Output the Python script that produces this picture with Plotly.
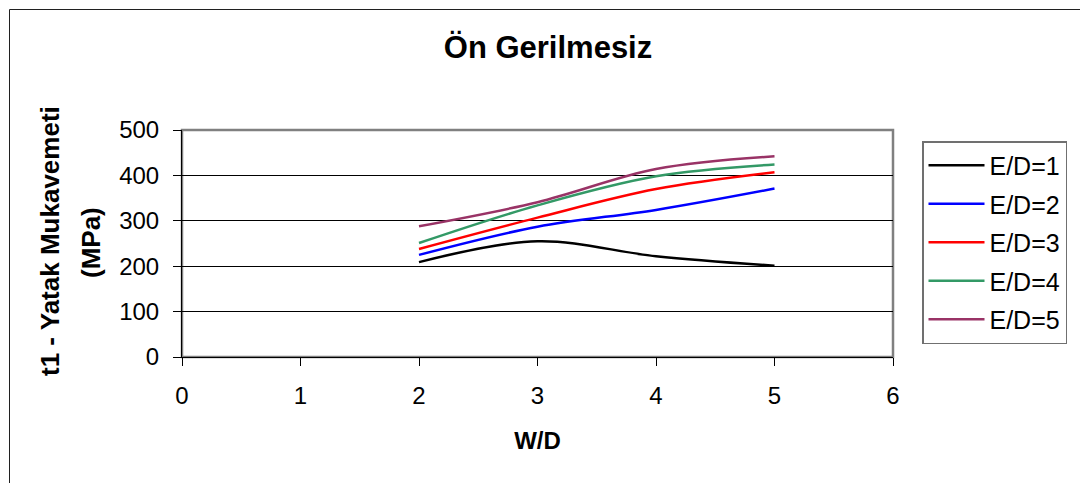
import plotly.graph_objects as go

# W/D ratios and bearing strength (MPa) for each E/D ratio
wd = [2, 3, 4, 5]
ed1 = [209, 255, 222, 201]
ed2 = [225, 287, 324, 371]
ed3 = [238, 307, 370, 407]
ed4 = [251, 334, 398, 424]
ed5 = [288, 341, 414, 442]

series_names = ["E/D=1", "E/D=2", "E/D=3", "E/D=4", "E/D=5"]
series_values = [ed1, ed2, ed3, ed4, ed5]
series_colors = ["#000000", "#0000FF", "#FF0000", "#339966", "#993366"]

x_ticks = [0, 1, 2, 3, 4, 5, 6]
y_ticks = [0, 100, 200, 300, 400, 500]

FONT = "Liberation Sans, Arial, sans-serif"

W, H = 1080, 483
L, R, T, B = 182, 187, 130, 126
pw, ph = W - L - R, H - T - B


def px_x(p):
    return (p - L) / pw


def px_y(p):
    return (H - B - p) / ph


fig = go.Figure()
for i, (name, vals, col) in enumerate(zip(series_names, series_values, series_colors)):
    fig.add_trace(go.Scatter(
        x=wd, y=vals, name=name, mode="lines",
        line=dict(color=col, width=2.5, shape="spline", smoothing=1.0),
        legendgroup=f"g{i}",
    ))

fig.update_layout(
    width=W, height=H,
    margin=dict(l=L, r=R, t=T, b=B),
    paper_bgcolor="white", plot_bgcolor="white",
    font=dict(family=FONT, color="black", size=24),
    title=dict(
        text="<b>Ön Gerilmesiz</b>",
        font=dict(family=FONT, size=31, color="black"),
        xref="container", x=548 / W, xanchor="center",
        yref="container", y=1 - 47 / H, yanchor="middle",
    ),
    showlegend=True,
    legend=dict(
        x=px_x(922), y=px_y(141), xanchor="left", yanchor="top",
        bordercolor="#707070", borderwidth=1.5, bgcolor="white",
        font=dict(family=FONT, size=25, color="black"),
        tracegroupgap=3, itemwidth=56,
    ),
    xaxis=dict(
        range=[0, 6], tickmode="array", tickvals=x_ticks,
        ticks="outside", ticklen=8, tickwidth=1, tickcolor="black",
        showline=True, linecolor="black", linewidth=1,
        showgrid=False, zeroline=False,
        tickfont=dict(family=FONT, size=24, color="black"),
        ticklabelstandoff=9,
        title=dict(text="<b>W/D</b>", font=dict(family=FONT, size=24, color="black"), standoff=24),
    ),
    yaxis=dict(
        range=[0, 500], tickmode="array", tickvals=y_ticks,
        ticks="outside", ticklen=8, tickwidth=1, tickcolor="black",
        showline=True, linecolor="black", linewidth=1,
        showgrid=True, gridcolor="black", gridwidth=1, zeroline=False,
        tickfont=dict(family=FONT, size=24, color="black"),
        ticklabelstandoff=9,
    ),
)

# plot-area frame (grey top/right edges)
fig.add_shape(type="rect", xref="paper", yref="paper", x0=0, x1=1, y0=0, y1=1,
              line=dict(color="#808080", width=2.5), layer="below")
# outer chart border
fig.add_shape(type="rect", xref="paper", yref="paper",
              x0=px_x(9.5), x1=px_x(1095), y0=px_y(495), y1=px_y(9.5),
              line=dict(color="#202020", width=1), layer="below")

# two-line rotated y-axis title
fig.add_annotation(text="<b>t1 - Yatak Mukavemeti</b>", textangle=-90,
                   xref="paper", yref="paper", x=px_x(50), y=px_y(241),
                   xanchor="center", yanchor="middle", showarrow=False,
                   font=dict(family=FONT, size=26, color="black"))
fig.add_annotation(text="<b>(MPa)</b>", textangle=-90,
                   xref="paper", yref="paper", x=px_x(91), y=px_y(243),
                   xanchor="center", yanchor="middle", showarrow=False,
                   font=dict(family=FONT, size=26, color="black"))

fig.write_html("out.html")
